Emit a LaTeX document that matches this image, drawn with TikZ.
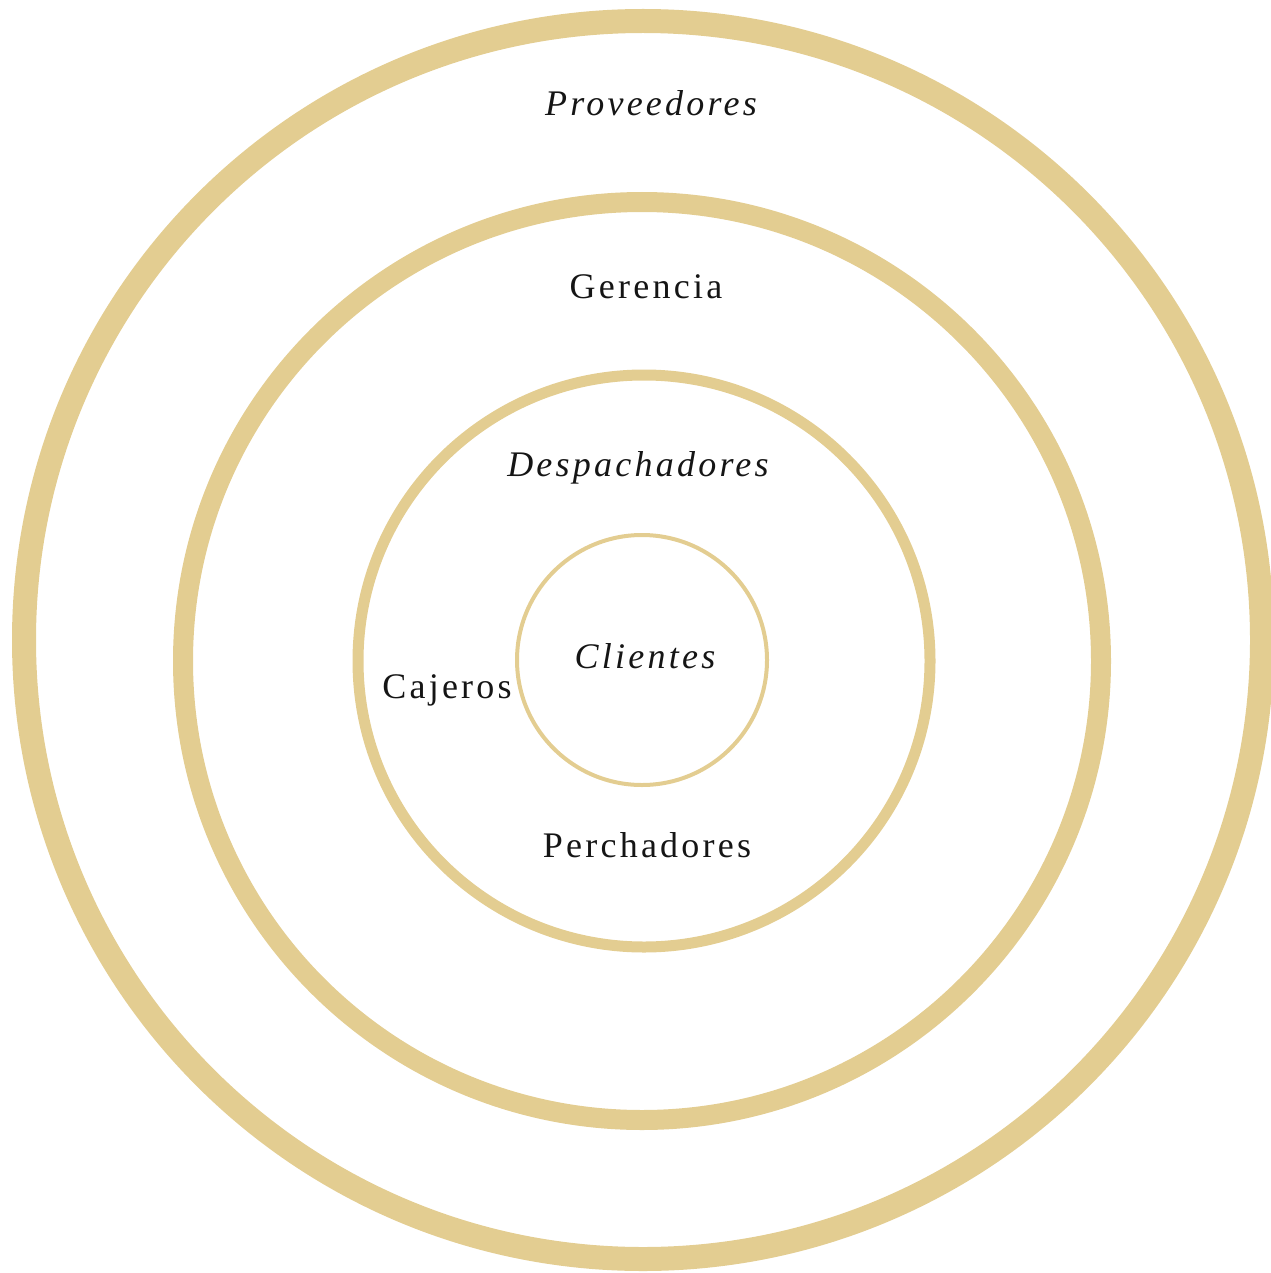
\documentclass[tikz,border=0pt]{standalone}
\usepackage{fontspec}
\setmainfont{Liberation Serif}
\newfontfamily\ringfont[LetterSpace=9]{Liberation Serif}
\usepackage{tikz}
\usetikzlibrary{positioning}
\definecolor{ringgold}{HTML}{E3CD91}
\definecolor{labelblack}{HTML}{151515}

\begin{document}
\begin{tikzpicture}[
  x=0.5pt, y=-0.5pt,
  ring/.style={circle, draw=ringgold, inner sep=0pt, fill=none},
  lbl/.style={font=\ringfont\fontsize{18}{20}\selectfont, text=labelblack, inner sep=0pt},
  ilbl/.style={lbl, font=\ringfont\fontsize{18}{20}\selectfont\itshape},
]
\useasboundingbox (0,0) rectangle (1270,1273);

% --- Rings, outer to inner ---
\node[ring, minimum size=619pt, line width=12pt] (provring) at (643,640) {};
\node[ring, minimum size=459pt, line width=10pt] (gerring)  at (642,661) {};
\node[ring, minimum size=286pt, line width=5.5pt] (desring) at (644,661) {};
\node[ring, minimum size=125pt, line width=2pt]  (cliring)  at (642,660) {};

% --- Labels ---
\node[ilbl] (prov)  at (651,103) {Proveedores};
\node[lbl]  (ger)   at (646,287) {Gerencia};
\node[ilbl] (desp)  at (638,468) {Despachadores};
\node[ilbl] (cli)   at (645,656) {Clientes};
\node[lbl]  (caj)   at (447,690) {Cajeros};
\node[lbl]  (perch) at (647,845) {Perchadores};

\end{tikzpicture}
\end{document}
